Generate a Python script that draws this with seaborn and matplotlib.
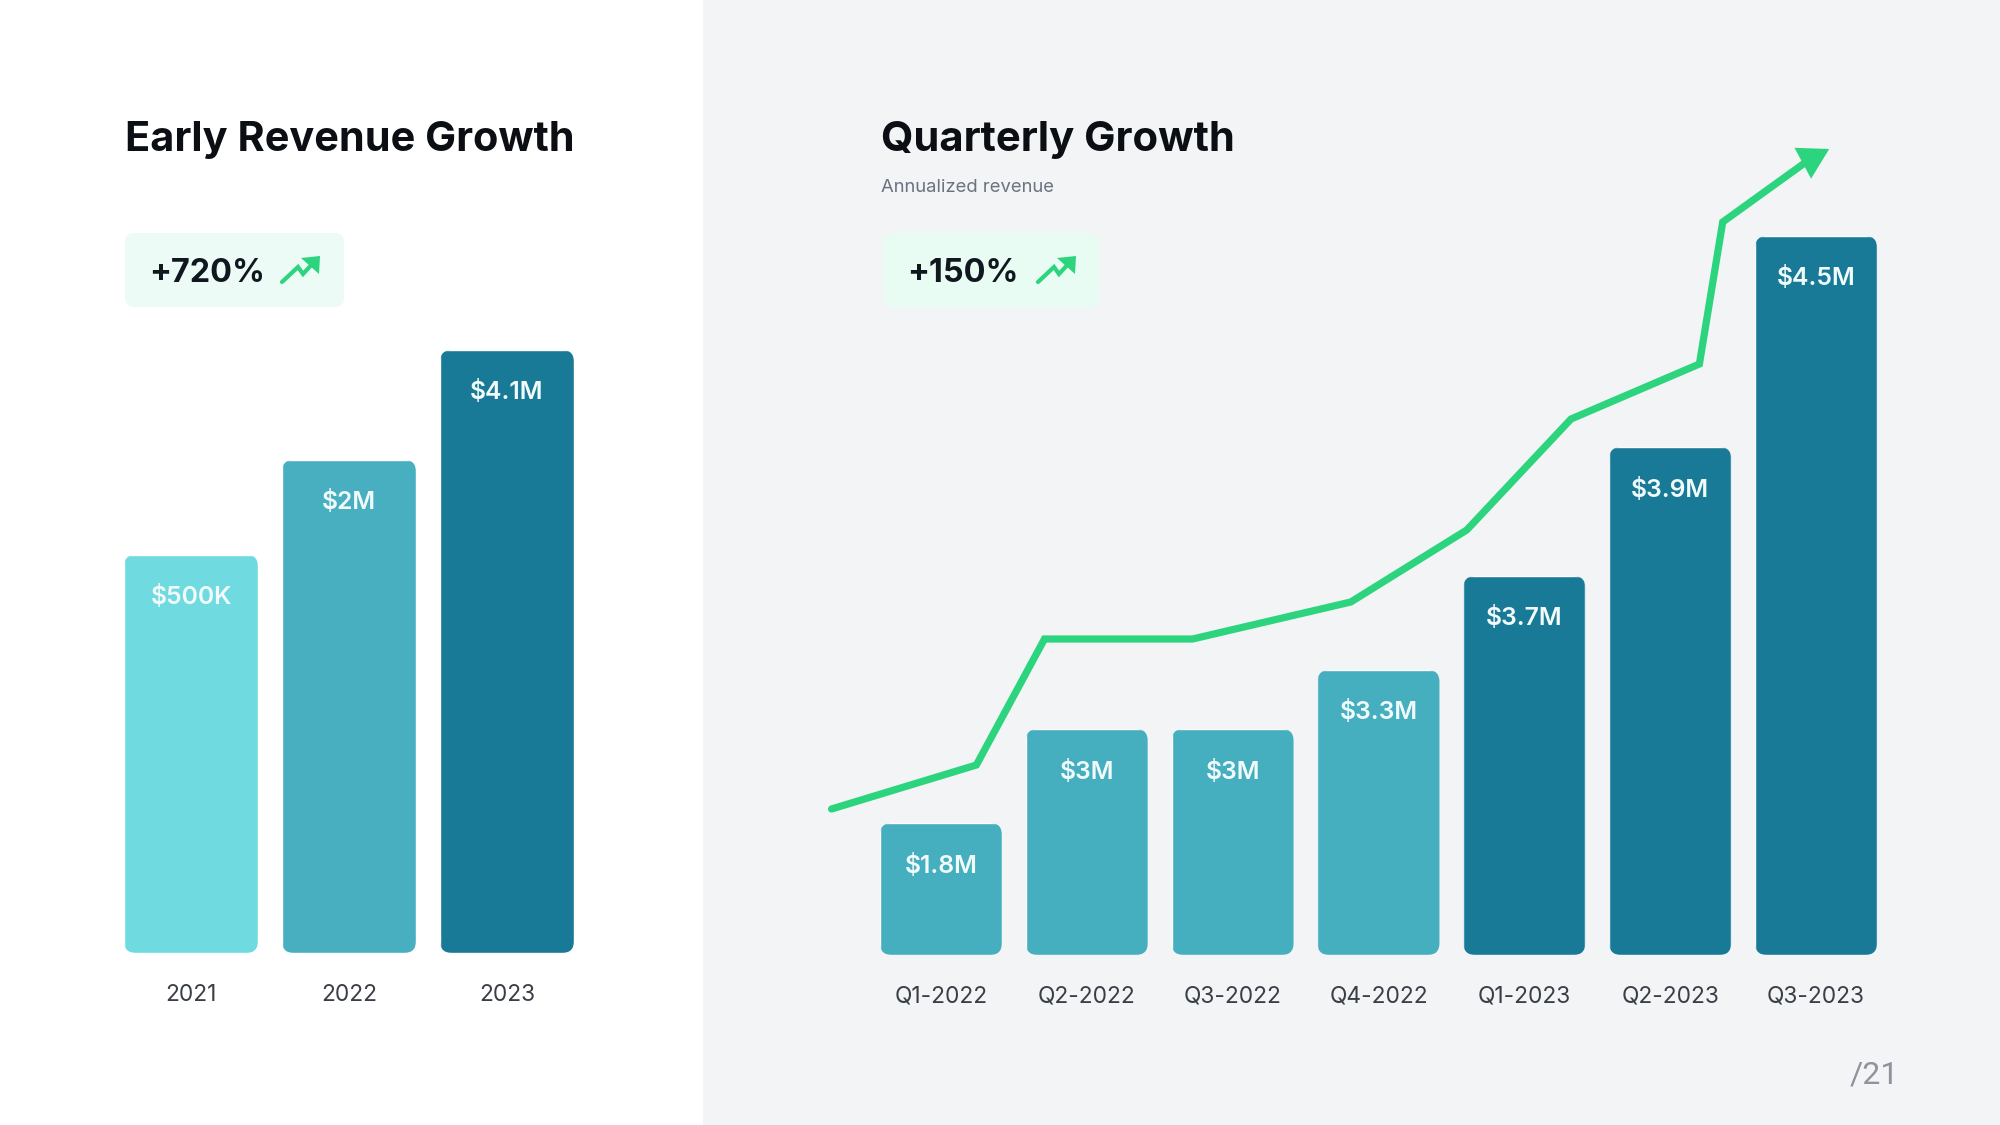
import matplotlib
matplotlib.use("Agg")
import matplotlib.pyplot as plt
from matplotlib.patches import FancyBboxPatch, Rectangle, Polygon
from matplotlib.transforms import IdentityTransform
import seaborn as sns

# ---- Data (bar heights, they do not follow the labels) ----
years = ["2021", "2022", "2023"]
year_heights = [399, 494, 604]
year_labels = ["$500K", "$2M", "$4.1M"]
year_colors = ["#6FDAE0", "#47AFBF", "#187A96"]

quarters = ["Q1-2022", "Q2-2022", "Q3-2022", "Q4-2022", "Q1-2023", "Q2-2023", "Q3-2023"]
quarter_heights = [132, 226, 226, 285, 379, 508, 719]
quarter_labels = ["$1.8M", "$3M", "$3M", "$3.3M", "$3.7M", "$3.9M", "$4.5M"]
quarter_colors = ["#45AEBF", "#45AEBF", "#45AEBF", "#45AEBF", "#187A96", "#187A96", "#187A96"]

trend_x = [-0.75, 0.243, 0.71, 1.725, 2.81, 3.605, 4.32, 5.2, 5.36, 5.95]
trend_y = [146, 190, 316, 316, 353, 425, 536, 591, 733, 795]
trend_tip = (6.09, 806)

GREEN = "#2BD47D"
INK = "#0B0F14"

sns.set_theme(style="white")
plt.rcParams["font.family"] = ["Inter", "DejaVu Sans"]

fig = plt.figure(figsize=(20, 11.25), dpi=100, facecolor="white")

# ---- Backdrop layer in pixel coordinates ----
bg = fig.add_axes([0, 0, 1, 1], zorder=-1)
bg.set_xlim(0, 2000)
bg.set_ylim(1125, 0)
bg.axis("off")
bg.add_patch(Rectangle((703, 0), 1297, 1125, color="#F2F4F6", lw=0))


def badge(x0, x1, text, color, icon_dx):
    bg.add_patch(FancyBboxPatch((x0, 233), x1 - x0, 74, boxstyle="round,pad=0,rounding_size=9",
                                fc=color, ec="none"))
    bg.text(x0 + 24, 270, text, fontsize=23.3, fontweight="bold", color="#10171F",
            va="center_baseline", ha="left")
    bg.plot([282 + icon_dx, 298 + icon_dx, 303 + icon_dx, 315 + icon_dx],
            [282, 267, 274, 261], color=GREEN, lw=3, solid_capstyle="round", solid_joinstyle="miter")
    bg.add_patch(Polygon([[301 + icon_dx, 258], [320 + icon_dx, 256], [319 + icon_dx, 274]],
                         closed=True, fc=GREEN, ec="none"))


bg.text(125, 151, "Early Revenue Growth", fontsize=29.85, fontweight="bold", color=INK, va="baseline")
bg.text(881, 151, "Quarterly Growth", fontsize=30.1, fontweight="bold", color=INK, va="baseline")
bg.text(881, 186, "Annualized revenue", fontsize=13.3, color="#6B7280", va="center_baseline")
badge(125, 344, "+720%", "#ECFBF5", 0)
badge(883, 1100, "+150%", "#E8FCF3", 756)
bg.text(1850, 1072, "/21", fontsize=23, color="#8E939C", family="Roboto",
        va="center_baseline")


def bar_panel(rect, cats, heights, labels, colors, width, top, pad):
    x0, y_top, x1, y_bot = rect
    ax = fig.add_axes([x0 / 2000, 1 - y_bot / 1125, (x1 - x0) / 2000, (y_bot - y_top) / 1125])
    ax.patch.set_alpha(0)
    sns.barplot(x=cats, y=heights, hue=cats, palette=colors, width=width, saturation=1,
                legend=False, ax=ax)
    ax.set_xlim(-0.5, len(cats) - 0.5)
    ax.set_ylim(0, top)
    sns.despine(ax=ax, left=True, bottom=True)
    ax.set_yticks([])
    ax.tick_params(axis="x", length=0, pad=pad, labelsize=16.4, labelcolor="#3A3F47")
    ax.set_ylabel("")
    ax.set_xlabel("")
    # px per value unit is 1, so the label offset stays the same on each bar
    for bar, lab in zip(ax.patches, labels):
        (a, b), (c, d) = ax.transData.transform(
            [(bar.get_x(), 0), (bar.get_x() + bar.get_width(), bar.get_height())])
        bar.set_clip_path(FancyBboxPatch((a, b), c - a, d - b,
                                         boxstyle="round,pad=0,rounding_size=12",
                                         transform=IdentityTransform()))
        ax.text(bar.get_x() + bar.get_width() / 2, bar.get_height() - 40, lab, color="#F1FBFC",
                fontsize=17.8, fontweight="semibold", ha="center", va="center_baseline")
    return ax


# ---- Left chart ----
bar_panel((112, 350, 586, 953), years, year_heights, year_labels, year_colors, 134 / 158, 604, 22)

# ---- Right chart ----
ax2 = bar_panel((868, 125, 1889, 955), quarters, quarter_heights, quarter_labels,
                quarter_colors, 122 / 145.83, 830, 22)
sns.lineplot(x=trend_x, y=trend_y, sort=False, estimator=None, color=GREEN, lw=5.2, ax=ax2,
             clip_on=False, solid_capstyle="round", solid_joinstyle="miter")
ax2.annotate("", xy=trend_tip, xytext=(trend_x[-1], trend_y[-1]), annotation_clip=False,
             arrowprops=dict(arrowstyle="-|>,head_length=21.6,head_width=12.6", mutation_scale=1,
                             color=GREEN, lw=0, shrinkA=0, shrinkB=0))
ax2.set_xlim(-0.5, len(quarters) - 0.5)
ax2.set_ylim(0, 830)

fig.savefig("out.png", facecolor="white")
